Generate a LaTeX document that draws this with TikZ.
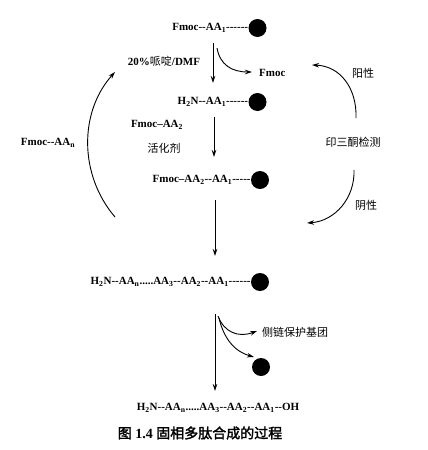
\documentclass[tikz,border=0pt]{standalone}
\usepackage{fontspec}
\setmainfont{Liberation Serif}
\newfontfamily\cjk{Noto Sans CJK SC}
\newfontfamily\cjkb[FakeBold=2]{Noto Sans CJK SC}
\usetikzlibrary{arrows.meta}
\newcommand\hy{\mbox{-}}
\newcommand\sbs[1]{\textsubscript{#1}}
\begin{document}
\begin{tikzpicture}[x=1pt,y=-1pt,
  lbl/.style={inner sep=0pt,font=\fontsize{11}{13}\selectfont\bfseries},
  cl/.style={inner sep=0pt,font=\fontsize{11}{13}\selectfont\cjk},
  bead/.style={circle,fill=black,minimum size=18pt,inner sep=0pt},
  arr/.style={line width=0.9pt,-{Stealth[length=7pt,width=4.5pt]}},
  carr/.style={line width=0.9pt,-{Stealth[length=7pt,width=4.5pt]}}]
\useasboundingbox (0,0) rectangle (428,450);
% row 1
\node[bead] (b1) at (257.5,28) {};
\node[lbl,anchor=east] (t1) at (b1.west) {Fmoc\hy\hy AA\sbs{1}\hy\hy\hy\hy\hy\hy};
\coordinate (a1s) at (213,43);
\coordinate (a1e) at (213,83);
\draw[arr] (a1s) -- (a1e);
\node[lbl] (l1) at (164,61) {20\%{\mdseries\cjk 哌啶}/DMF};
\coordinate (c1s) at (217,48);
\node[lbl,anchor=west] (fm) at (259,73) {Fmoc};
\coordinate (c1e) at (252,72);
\draw[carr] (c1s) .. controls (220,65) and (232,72) .. (c1e);
% row 2
\node[bead] (b2) at (257.5,102) {};
\node[lbl,anchor=east] (t2) at (b2.west) {H\sbs{2}N\hy\hy AA\sbs{1}\hy\hy\hy\hy\hy\hy};
\node[lbl] (l2) at (157,125) {Fmoc–AA\sbs{2}};
\node[cl] (l3) at (164,148) {活化剂};
\coordinate (a2s) at (214,117);
\coordinate (a2e) at (214,157);
\draw[arr] (a2s) -- (a2e);
% row 3
\node[bead] (b3) at (260,180) {};
\node[lbl,anchor=east] (t3) at (b3.west) {Fmoc–AA\sbs{2}\hy\hy AA\sbs{1}\hy\hy\hy\hy\hy};
\coordinate (a3s) at (215,200);
\coordinate (a3e) at (215,256);
\draw[arr] (a3s) -- (a3e);
% row 4
\node[bead] (b4) at (260,282) {};
\node[lbl,anchor=east] (t4) at (b4.west) {H\sbs{2}N\hy\hy AA\sbs{n}.....AA\sbs{3}\hy\hy AA\sbs{2}\hy\hy AA\sbs{1}\hy\hy\hy\hy\hy\hy};
\coordinate (a4s) at (215,314);
\coordinate (a4e) at (215,391);
\draw[arr] (a4s) -- (a4e);
\coordinate (c4s) at (218,316);
\node[cl,anchor=west] (sg) at (262,332) {侧链保护基团};
\coordinate (c4e) at (257,331);
\draw[carr] (c4s) .. controls (224,332) and (238,338) .. (c4e);
\node[bead] (b5) at (261,367) {};
\coordinate (c5s) at (219,318);
\coordinate (c5e) at (254,357);
\draw[carr] (c5s) .. controls (224,340) and (236,352) .. (c5e);
% final
\node[lbl] (t5) at (218,408) {H\sbs{2}N\hy\hy AA\sbs{n}.....AA\sbs{3}\hy\hy AA\sbs{2}\hy\hy AA\sbs{1}\hy\hy OH};
\node[inner sep=0pt,font=\fontsize{14}{16}\selectfont] (cap) at (200,433) {{\cjkb 图} \textbf{1.4} {\cjkb 固相多肽合成的过程}};
% left cycle
\node[lbl] (ln) at (48,143) {Fmoc\hy\hy AA\sbs{n}};
\coordinate (las) at (115,217);
\coordinate (lae) at (115,72);
\draw[carr] (las) .. controls (79,175) and (79,112) .. (lae);
% right cycle
\node[cl] (nin) at (353,142) {印三酮检测};
\node[cl] (pos) at (363,73) {阳性};
\node[cl] (neg) at (366,205) {阴性};
\coordinate (r1s) at (356,118);
\coordinate (r1e) at (312,65);
\draw[carr] (r1s) .. controls (357,88) and (340,66) .. (r1e);
\coordinate (r2s) at (354,170);
\coordinate (r2e) at (307,223);
\draw[carr] (r2s) .. controls (355,198) and (335,221) .. (r2e);
\end{tikzpicture}
\end{document}
